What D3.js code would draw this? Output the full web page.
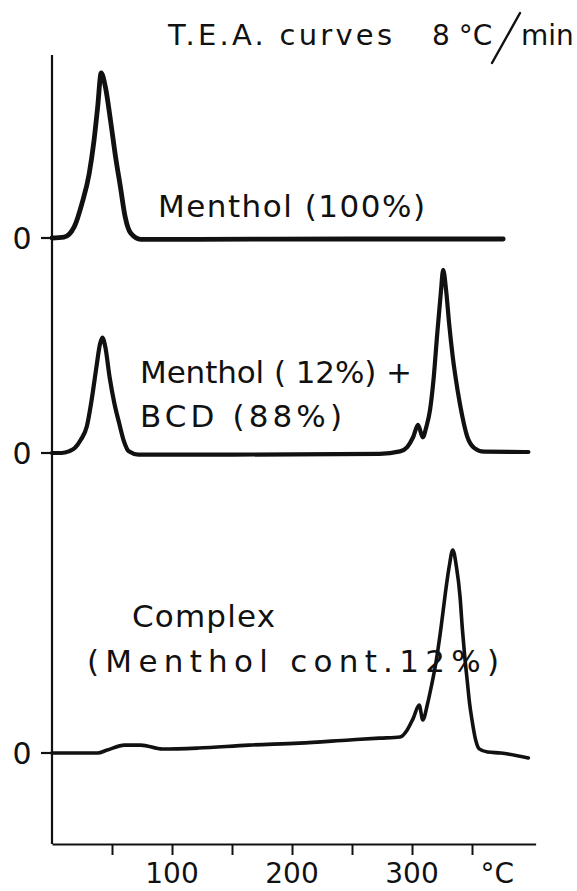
<!DOCTYPE html>
<html>
<head>
<meta charset="utf-8">
<script src="https://cdn.jsdelivr.net/npm/d3@7/dist/d3.min.js"></script>
<style>
  body { margin: 0; background: #fff; }
  text { font-family: "DejaVu Sans", sans-serif; fill: #111; }
</style>
</head>
<body>
<svg id="chart"></svg>
<script>
// temperatures (°C) and signal (arbitrary units, 100 = menthol peak)
const mentholTemps = [0, 10, 18.5, 25, 31, 35, 38, 41, 44.5, 49, 53, 57, 61, 65.5, 74, 120, 250, 376];
const mentholValues = [0, 0.5, 6.7, 21, 39, 59, 79, 100, 91.5, 70, 49, 31, 12.7, 3, -0.8, -0.8, -0.6, -0.6];

const mixTemps = [0, 8, 14, 19, 24, 29, 33, 37, 40, 42, 44.5, 48, 52, 56, 60, 64, 72, 150, 273, 290, 296, 301, 305, 309, 312, 315, 318, 321, 324, 326, 328.5, 331, 334, 338, 342, 346, 352, 360, 397];
const mixValues = [0, 0, 1, 3, 8, 16, 32, 52, 66, 70, 64, 46, 30, 18, 7, 1, -1, -1, -0.5, 1, 3.6, 9.7, 17, 9.5, 16, 26, 45, 72, 97, 111, 98, 78, 58, 38, 22, 10, 3, 0.8, 0.6];

const complexTemps = [0, 38, 46, 60.5, 74, 92, 122, 164, 206, 248, 273, 290, 296, 301, 306, 309, 313, 316, 320, 324, 328, 331, 334, 337, 340, 342, 344, 346, 348, 350, 353, 356, 363, 374, 397];
const complexValues = [0, 0, 1.8, 4.8, 4.8, 2.4, 3, 4.8, 6, 7.9, 9, 9.7, 14, 21, 29, 20, 30, 40, 55, 75, 98, 113, 123, 113, 95, 75, 58, 44, 30, 20, 8, 2.5, 0.6, 0, -3];

const xTicks = [50, 100, 150, 200, 250, 300, 350];
const xTickLabels = [100, 200, 300];
const unitTemp = 371;

// layout
const W = 577, H = 891;
const axisY = 844, axisTop = 55;
const baselines = [238, 453, 753];

const svg = d3.select('#chart').attr('width', W).attr('height', H);

const x = d3.scaleLinear().domain([0, 403]).range([52, 535.6]);
const amp = d3.scaleLinear().domain([0, 100]).range([0, 165]);

// y axis line + zero ticks
svg.append('line')
  .attr('x1', x(0)).attr('x2', x(0))
  .attr('y1', axisTop).attr('y2', axisY)
  .attr('stroke', '#111').attr('stroke-width', 2.2);

svg.selectAll('.zero-tick')
  .data(baselines)
  .enter()
  .append('line')
  .attr('class', 'zero-tick')
  .attr('x1', x(0) - 11).attr('x2', x(0))
  .attr('y1', d => d).attr('y2', d => d)
  .attr('stroke', '#111').attr('stroke-width', 2.2);

svg.selectAll('.zero-label')
  .data(baselines)
  .enter()
  .append('text')
  .attr('class', 'zero-label')
  .attr('x', 22)
  .attr('y', d => d + 11)
  .attr('text-anchor', 'middle')
  .attr('font-size', 30)
  .text('0');

// x axis
const xAxis = d3.axisBottom(x)
  .tickValues(xTicks)
  .tickSize(11)
  .tickSizeOuter(0)
  .tickFormat('');

const gx = svg.append('g')
  .attr('transform', `translate(0,${axisY})`)
  .call(xAxis);
gx.select('.domain').attr('stroke', '#111').attr('stroke-width', 2.2);
gx.selectAll('.tick line').attr('stroke', '#111').attr('stroke-width', 2);

svg.selectAll('.x-label')
  .data(xTickLabels)
  .enter()
  .append('text')
  .attr('class', 'x-label')
  .attr('x', d => x(d))
  .attr('y', 883)
  .attr('text-anchor', 'middle')
  .attr('font-size', 28)
  .text(d => d);

svg.append('text')
  .attr('x', x(unitTemp))
  .attr('y', 883)
  .attr('text-anchor', 'middle')
  .attr('font-size', 28)
  .text('°C');

// curves
const series = [
  { temps: mentholTemps, values: mentholValues, base: baselines[0], width: 4.8 },
  { temps: mixTemps, values: mixValues, base: baselines[1], width: 4.2 },
  { temps: complexTemps, values: complexValues, base: baselines[2], width: 3.6 }
];

series.forEach(s => {
  const line = d3.line()
    .x(d => x(d[0]))
    .y(d => s.base - amp(d[1]))
    .curve(d3.curveMonotoneX);
  svg.append('path')
    .datum(d3.zip(s.temps, s.values))
    .attr('d', line)
    .attr('fill', 'none')
    .attr('stroke', '#111')
    .attr('stroke-width', s.width)
    .attr('stroke-linejoin', 'round')
    .attr('stroke-linecap', 'round');
});

// labels (len = stretched width, null = natural)
const labels = [
  { text: 'T.E.A. curves', x: 168, y: 45, len: 224, size: 29 },
  { text: '8 °C', x: 432, y: 45, len: null, size: 28 },
  { text: 'min', x: 521, y: 45, len: null, size: 28 },
  { text: 'Menthol (100%)', x: 158, y: 217, len: 267, size: 31 },
  { text: 'Menthol ( 12%) +', x: 140, y: 383, len: 272, size: 31 },
  { text: 'BCD (88%)', x: 140, y: 427, len: 202, size: 31 },
  { text: 'Complex', x: 132, y: 627, len: 143, size: 31 },
  { text: '(Menthol cont.12%)', x: 87, y: 672, len: 412, size: 31 }
];

svg.selectAll('.label')
  .data(labels)
  .enter()
  .append('text')
  .attr('class', 'label')
  .attr('x', d => d.x)
  .attr('y', d => d.y)
  .attr('font-size', d => d.size)
  .attr('textLength', d => d.len)
  .attr('lengthAdjust', d => d.len ? 'spacing' : null)
  .text(d => d.text);

// big slash in "°C/min"
svg.append('line')
  .attr('x1', 492).attr('y1', 63)
  .attr('x2', 520).attr('y2', 13)
  .attr('stroke', '#111').attr('stroke-width', 2.4)
  .attr('stroke-linecap', 'round');
</script>
</body>
</html>
